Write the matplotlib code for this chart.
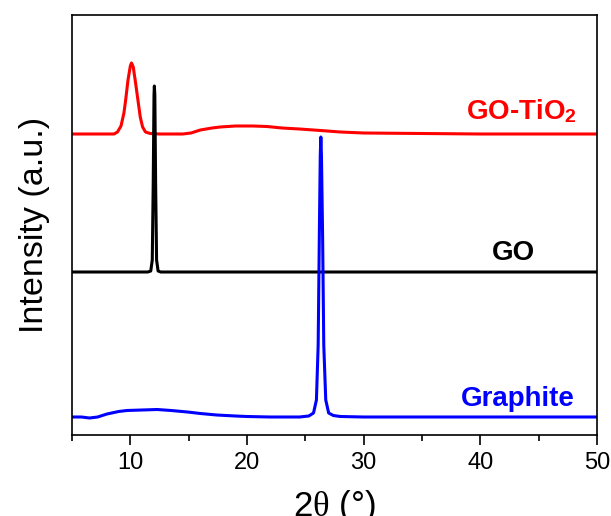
import numpy as np
import matplotlib
matplotlib.use("Agg")
import matplotlib.pyplot as plt
from matplotlib.ticker import MultipleLocator

plt.rcParams['font.family'] = ['Liberation Sans', 'DejaVu Sans']
plt.rcParams['mathtext.fontset'] = 'custom'
plt.rcParams['mathtext.rm'] = 'Liberation Sans'
plt.rcParams['mathtext.it'] = 'Liberation Serif'
plt.rcParams['mathtext.bf'] = 'Liberation Sans:bold'

# XRD patterns, already stacked with their vertical offsets (arbitrary units)
tio2_x = [5, 7.0, 8.6, 8.9, 9.2, 9.45, 9.6, 9.8, 10.0, 10.1, 10.25, 10.45, 10.65,
          10.85, 11.05, 11.3, 11.7, 12.5, 14.5, 15.2, 16.0, 17.0, 17.7, 19.0,
          20.5, 21.7, 23.0, 24.5, 26.3, 28.0, 30.0, 35.0, 40.0, 45.0, 50.0]
tio2_y = [301, 301, 301, 303, 309, 322, 335, 355, 369, 372, 368, 352, 335,
          318, 308, 303, 301.5, 301, 301, 302, 305, 307, 308, 309,
          309, 308.5, 307, 306, 304.5, 303, 302, 301.5, 301, 301, 301]

go_x = [5, 8.0, 11.5, 11.75, 11.88, 11.96, 12.03, 12.06, 12.1, 12.17, 12.25,
        12.38, 12.6, 20.0, 30.0, 40.0, 50.0]
go_y = [163, 163, 163, 164, 175, 250, 340, 349, 340, 250, 175,
        164, 163, 163, 163, 163, 163]

graphite_x = [5, 5.8, 6.5, 7.2, 8.0, 9.0, 9.7, 11.0, 12.3, 13.5, 14.9, 16.0,
              17.4, 19.0, 20.0, 22.0, 24.5, 25.3, 25.7, 25.95, 26.1, 26.2,
              26.28, 26.33, 26.38, 26.48, 26.58, 26.75, 27.0, 27.4, 28.0,
              30.0, 40.0, 50.0]
graphite_y = [18, 18, 17, 18, 21, 23.5, 24.5, 25, 25.5, 24.5, 23, 21.5,
              20, 19, 18.5, 18, 18, 19, 22, 35, 90, 200,
              280, 298, 280, 200, 90, 35, 22, 19.5, 18.5,
              18, 18, 18]

series = [
    (tio2_x, tio2_y, '#ff0000', r'GO-TiO$_\mathbf{2}$', 48.3, 315.5),
    (go_x, go_y, 'black', 'GO', 44.7, 175),
    (graphite_x, graphite_y, '#0000ff', 'Graphite', 48.1, 29),
]

fig = plt.figure(figsize=(6.11, 5.16), dpi=100)
ax = fig.add_axes([72/611, 1 - 435/516, 525/611, 420/516])

for x, y, c, name, lx, ly in series:
    ax.plot(x, y, color=c, lw=2.2)
    ax.text(lx, ly, name, color=c, fontsize=20, fontweight='bold',
            ha='right', va='baseline')

ax.set_xlim(5, 50)
ax.set_ylim(0, 420)
ax.xaxis.set_major_locator(MultipleLocator(10))
ax.xaxis.set_minor_locator(MultipleLocator(5))
ax.set_yticks([])
ax.tick_params(axis='x', which='major', direction='out', length=7, width=1.2,
               labelsize=17, pad=5)
ax.tick_params(axis='x', which='minor', direction='out', length=4, width=1.2)
for s in ax.spines.values():
    s.set_linewidth(1.2)

ax.set_xlabel(r'2$\theta$ (°)', fontsize=25, labelpad=10)
ax.set_ylabel('Intensity (a.u.)', fontsize=24.5, labelpad=16)

fig.savefig('out.png', dpi=100)
